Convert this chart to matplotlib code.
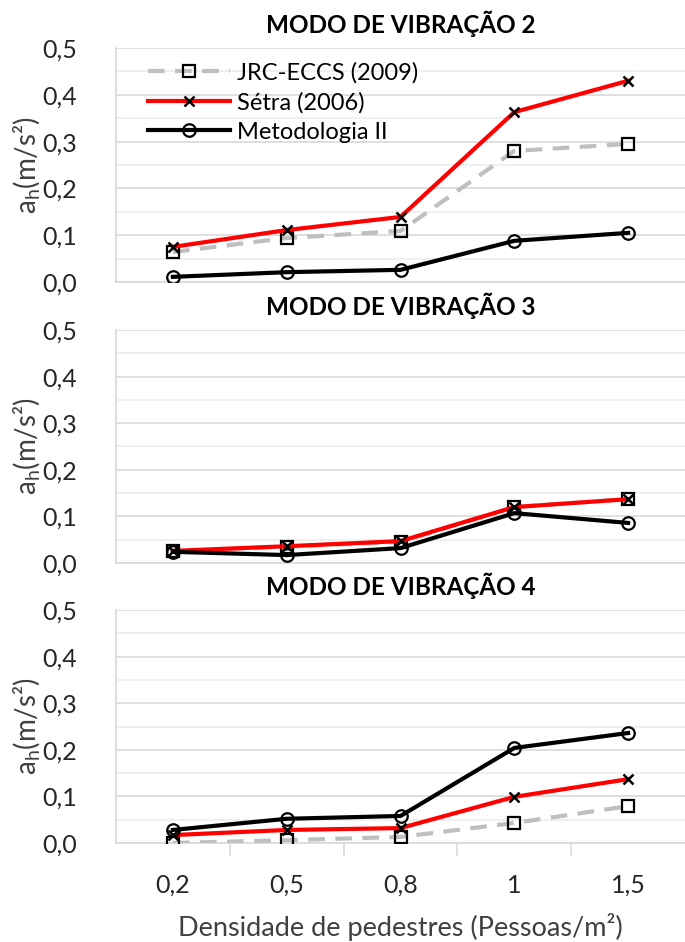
import matplotlib
matplotlib.use("Agg")
import matplotlib.pyplot as plt
import numpy as np

plt.rcParams['font.family'] = ['Lato', 'DejaVu Sans']

categorias = ['0,2', '0,5', '0,8', '1', '1,5']
titulos = ['MODO DE VIBRAÇÃO 2', 'MODO DE VIBRAÇÃO 3', 'MODO DE VIBRAÇÃO 4']

# JRC-ECCS (2009), Sétra (2006), Metodologia II -- um por modo
jrc = [[0.064, 0.094, 0.109, 0.280, 0.295],
       [0.025, 0.035, 0.045, 0.120, 0.137],
       [0.000, 0.006, 0.013, 0.043, 0.079]]
setra = [[0.075, 0.111, 0.139, 0.363, 0.430],
         [0.026, 0.036, 0.047, 0.120, 0.137],
         [0.017, 0.028, 0.032, 0.099, 0.137]]
metod = [[0.011, 0.021, 0.026, 0.088, 0.105],
         [0.024, 0.017, 0.032, 0.107, 0.086],
         [0.028, 0.052, 0.058, 0.204, 0.236]]

W, H = 685, 942
fig = plt.figure(figsize=(W/100, H/100), dpi=100)

# (topo, base) de cada area em pixels
areas = [(48, 282), (330, 563), (610, 843)]
x = np.arange(len(categorias))

for i, (top, bot) in enumerate(areas):
    ax = fig.add_axes([116/W, 1 - bot/H, 1 - 116/W, (bot - top)/H])
    ax.plot(x, jrc[i], color='#bfbfbf', lw=3, ls=(0, (4, 2.5)), marker='s', ms=9,
            mfc='none', mec='black', mew=1.6, label='JRC-ECCS (2009)', zorder=3)
    ax.plot(x, setra[i], color='#ff0000', lw=3, marker='x', ms=7,
            mec='black', mew=1.8, label='Sétra (2006)', zorder=4)
    ax.plot(x, metod[i], color='black', lw=3, marker='o', ms=9,
            mfc='none', mec='black', mew=1.6, label='Metodologia II', zorder=5)

    ax.set_xlim(-0.5, 4.5)
    ax.set_ylim(0, 0.5)
    ax.set_yticks(np.arange(0, 0.51, 0.1))
    ax.set_yticks(np.arange(0.05, 0.5, 0.1), minor=True)
    ax.set_yticklabels(['0,0', '0,1', '0,2', '0,3', '0,4', '0,5'])
    ax.grid(True, which='major', axis='y', color='#d9d9d9', lw=1.2)
    ax.grid(True, which='minor', axis='y', color='#eeeeee', lw=1.2)
    ax.set_axisbelow(True)
    for s in ['top', 'right']:
        ax.spines[s].set_visible(False)
    ax.spines['left'].set_color('#d9d9d9')
    ax.spines['bottom'].set_color('#d9d9d9')
    ax.spines['left'].set_linewidth(1.2)
    ax.spines['bottom'].set_linewidth(1.2)
    ax.tick_params(axis='y', which='both', length=0, labelsize=18, pad=28,
                   labelcolor='#262626')
    ax.set_ylabel('a$_\\mathregular{h}$(m/s²)', fontsize=20, color='#404040', labelpad=2)
    ax.yaxis.set_label_coords(-0.128, 0.5)
    ax.set_title(titulos[i], fontsize=17.5, fontweight='bold', pad=11)

    if i == 2:
        ax.set_xticks(x)
        ax.set_xticklabels(categorias)
        ax.set_xticks(np.arange(0.5, 4, 1), minor=True)
        ax.tick_params(axis='x', which='major', length=0, labelsize=18, pad=22,
                       labelcolor='#262626')
        ax.tick_params(axis='x', which='minor', length=9, color='#d9d9d9', width=1.2)
        ax.set_xlabel('Densidade de pedestres (Pessoas/m²)', fontsize=19.5,
                      color='#404040', labelpad=12)
    else:
        ax.set_xticks([])

    if i == 0:
        ax.legend(loc='upper left', frameon=False, fontsize=17, handlelength=3.5,
                  borderaxespad=0.1, labelspacing=0.35, bbox_to_anchor=(0.035, 0.99),
                  handletextpad=0.3)

fig.savefig('out.png', dpi=100)
